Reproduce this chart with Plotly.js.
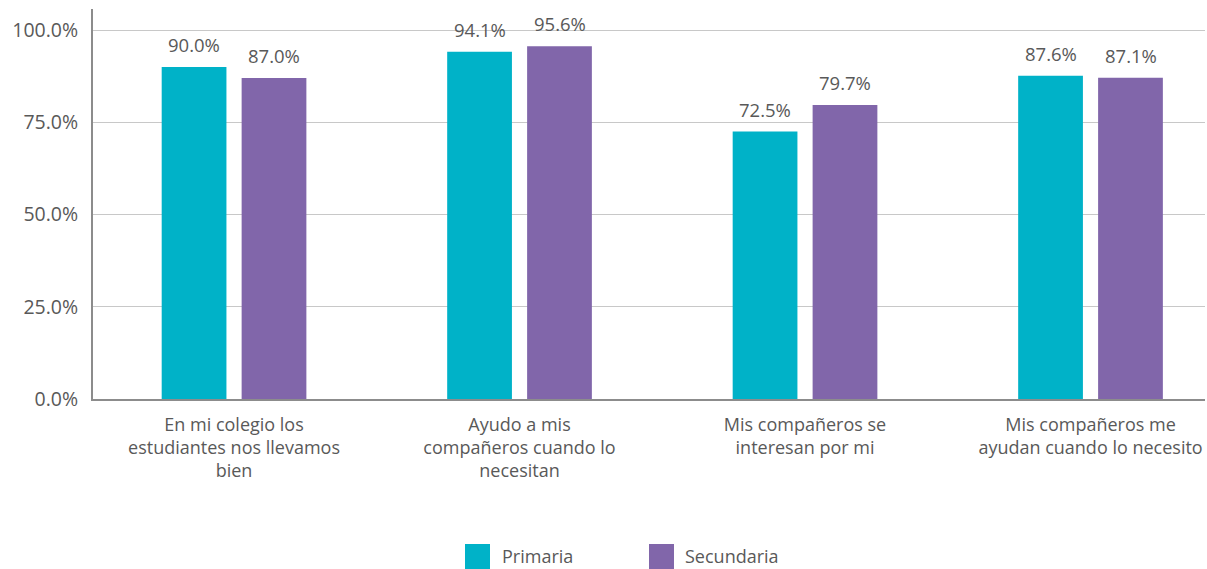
<!DOCTYPE html>
<html>
<head>
<meta charset="utf-8">
<script src="https://cdn.plot.ly/plotly-3.0.1.min.js"></script>
<style>body{margin:0;padding:0;background:#fff;} #chart{width:1207px;height:569px;}</style>
</head>
<body>
<div id="chart"></div>
<script>
const categories = [
  "En mi colegio los<br>estudiantes nos llevamos<br>bien",
  "Ayudo a mis<br>compañeros cuando lo<br>necesitan",
  "Mis compañeros se<br>interesan por mi",
  "Mis compañeros me<br>ayudan cuando lo necesito"
];
const seriesNames = ["Primaria", "Secundaria"];
const primaria = [0.900, 0.941, 0.725, 0.876];
const secundaria = [0.870, 0.956, 0.797, 0.871];
const yTicks = [0, 0.25, 0.5, 0.75, 1.0];
const colors = ["#00B2C8", "#8166AA"];

const font = "Open Sans, Noto Sans, sans-serif";
const textColor = "#595959";

// plot area in pixels
const L = 93, R = 1205, T = 9, B = 399;
const px = x => (x - L) / (R - L);
const py = y => (B - y) / (B - T);

const traces = [primaria, secundaria].map((vals, k) => ({
  type: "bar", name: seriesNames[k], x: categories, y: vals,
  marker: {color: colors[k]}, hoverinfo: "none", showlegend: false
}));

const annotations = [];
[primaria, secundaria].forEach((vals, k) => {
  vals.forEach((v, i) => {
    annotations.push({
      x: categories[i], y: v, xref: "x", yref: "y",
      text: (v * 100).toFixed(1) + "%", showarrow: false,
      xshift: k === 0 ? -40 : 40, yshift: 8, yanchor: "bottom",
      font: {size: 18.5, color: textColor, family: font}
    });
  });
});

// legend (manual, large squares)
const legendItems = [{sq: 465, tx: 500}, {sq: 649, tx: 683}];
const shapes = [];
legendItems.forEach((it, k) => {
  shapes.push({type: "rect", xref: "paper", yref: "paper",
    x0: px(it.sq), x1: px(it.sq + 25), y0: py(544), y1: py(569),
    fillcolor: colors[k], line: {width: 0}});
  annotations.push({xref: "paper", yref: "paper", x: px(it.tx), y: py(556),
    xanchor: "left", yanchor: "middle", showarrow: false,
    text: seriesNames[k], font: {size: 18, color: textColor, family: font}});
});

const layout = {
  width: 1207, height: 569,
  margin: {l: L, r: 1207 - R, t: T, b: 569 - B},
  paper_bgcolor: "#fff", plot_bgcolor: "#fff",
  font: {family: font, color: textColor, size: 18},
  barmode: "group", bargap: 0.44, bargroupgap: 0.19,
  xaxis: {
    range: [-0.494, 3.401],
    showline: true, linecolor: "#8c8c8c", linewidth: 2,
    tickfont: {size: 18, color: textColor}, ticks: "",
    ticklabelstandoff: 8, automargin: false
  },
  yaxis: {
    range: [0, 1.057], tickvals: yTicks, tickformat: ".1%",
    showgrid: true, gridcolor: "#c8c8c8", gridwidth: 1,
    showline: true, linecolor: "#8c8c8c", linewidth: 2,
    zeroline: false, ticks: "",
    tickfont: {size: 19.5, color: textColor}, ticklabelstandoff: 9, automargin: false
  },
  annotations: annotations,
  shapes: shapes,
  showlegend: false
};

Plotly.newPlot("chart", traces, layout, {displayModeBar: false, staticPlot: true});
</script>
</body>
</html>
